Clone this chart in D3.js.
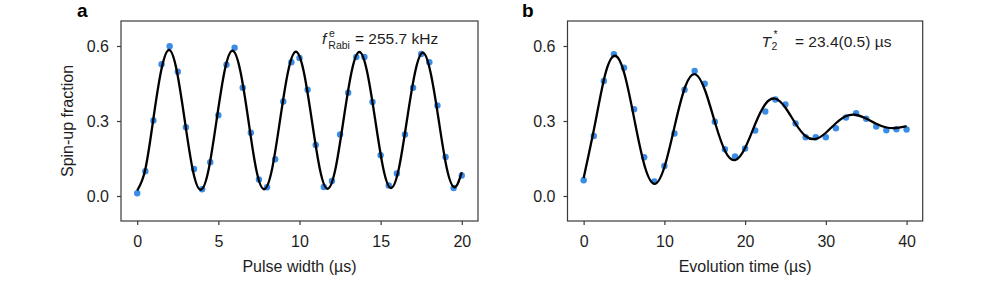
<!DOCTYPE html>
<html>
<head>
<meta charset="utf-8" />
<title>Rabi oscillation and Ramsey decay</title>
<style>
  body { margin: 0; background: #fff; }
  svg { display: block; font-family: "Liberation Sans", Arial, Helvetica, sans-serif; }
</style>
</head>
<body>
<script src="https://d3js.org/d3.v7.min.js"></script>
<script>

// panel a: Rabi oscillation, one point every 0.5 us
var rabiTime = [0, 0.5, 1, 1.5, 2, 2.5, 3, 3.5, 4, 4.5, 5, 5.5, 6, 6.5, 7, 7.5, 8, 8.5, 9, 9.5,
                10, 10.5, 11, 11.5, 12, 12.5, 13, 13.5, 14, 14.5, 15, 15.5, 16, 16.5, 17, 17.5, 18, 18.5, 19, 19.5, 20];
var rabiSpinUp = [0.011, 0.099, 0.302, 0.527, 0.599, 0.497, 0.275, 0.108, 0.027, 0.135, 0.323, 0.525, 0.593, 0.433,
                  0.253, 0.066, 0.035, 0.147, 0.378, 0.535, 0.552, 0.425, 0.204, 0.036, 0.060, 0.246, 0.413, 0.556,
                  0.556, 0.376, 0.163, 0.042, 0.090, 0.246, 0.433, 0.568, 0.535, 0.362, 0.156, 0.032, 0.082];

// fitted curve of panel a (eighth of a period apart)
var rabiFitTime = [0, 0.49, 0.98, 1.47, 1.96, 2.44, 2.93, 3.42, 3.91, 4.40, 4.89, 5.38, 5.87, 6.36, 6.85, 7.33,
                   7.82, 8.31, 8.80, 9.29, 9.78, 10.27, 10.76, 11.25, 11.73, 12.22, 12.71, 13.20, 13.69, 14.18,
                   14.67, 15.16, 15.64, 16.13, 16.62, 17.11, 17.60, 18.09, 18.58, 19.07, 19.56, 20];
var rabiFit = [0.022, 0.104, 0.302, 0.500, 0.584, 0.500, 0.302, 0.105, 0.025, 0.106, 0.303, 0.499, 0.581, 0.498,
               0.303, 0.107, 0.027, 0.108, 0.303, 0.496, 0.577, 0.495, 0.303, 0.109, 0.029, 0.110, 0.303, 0.494,
               0.576, 0.493, 0.303, 0.111, 0.032, 0.112, 0.303, 0.491, 0.573, 0.490, 0.303, 0.113, 0.035, 0.095];

// panel b: Ramsey, one point every 1.25 us
var ramseyTime = [0, 1.25, 2.5, 3.75, 5, 6.25, 7.5, 8.75, 10, 11.25, 12.5, 13.75, 15, 16.25, 17.5, 18.75, 20,
                  21.25, 22.5, 23.75, 25, 26.25, 27.5, 28.75, 30, 31.25, 32.5, 33.75, 35, 36.25, 37.5, 38.75, 40];
var ramseySpinUp = [0.063, 0.240, 0.460, 0.567, 0.513, 0.347, 0.155, 0.058, 0.120, 0.250, 0.425, 0.500, 0.449,
                    0.297, 0.187, 0.158, 0.190, 0.262, 0.338, 0.386, 0.366, 0.290, 0.235, 0.235, 0.235, 0.271,
                    0.314, 0.331, 0.309, 0.278, 0.263, 0.267, 0.266];

var ramseyFitTime = [0, 1.42, 2.66, 3.90, 5.14, 6.38, 7.62, 8.87, 10.11, 11.35, 12.59, 13.83, 15.07, 16.31, 17.55,
                     18.80, 20.04, 21.28, 22.52, 23.76, 25.00, 26.24, 27.48, 28.72, 29.97, 31.21, 32.45, 33.69,
                     34.93, 36.17, 37.41, 38.66, 40];
var ramseyFit = [0.072, 0.290, 0.485, 0.561, 0.478, 0.290, 0.113, 0.049, 0.127, 0.290, 0.438, 0.487, 0.420, 0.290,
                 0.178, 0.144, 0.195, 0.290, 0.368, 0.389, 0.353, 0.290, 0.240, 0.228, 0.252, 0.290, 0.319, 0.325,
                 0.311, 0.290, 0.275, 0.272, 0.280];

var yTicks = [0, 0.3, 0.6];
var rabiTicks = [0, 5, 10, 15, 20];
var ramseyTicks = [0, 10, 20, 30, 40];

var width = 997;
var height = 285;
var plotTop = 21;
var plotBottom = 221;
var dotColor = "#3a8de6";
var inkColor = "#1e1e1e";
var frameColor = "#3a3a3a";
var fontSize = "16px";
var noteSize = "15.5px";
var small = "10.5px";

var svg = d3.select("body").append("svg")
    .attr("width", width)
    .attr("height", height);

svg.append("rect")
    .attr("width", width)
    .attr("height", height)
    .attr("fill", "#fff");

var yScaler = d3.scaleLinear()
    .domain([-0.1, 0.7])
    .range([plotBottom, plotTop]);

function styleAxis(g) {
    g.select(".domain").remove();
    g.attr("font-family", null).attr("font-size", null);
    g.selectAll(".tick line").attr("stroke", frameColor).attr("stroke-width", 1.2);
    g.selectAll(".tick text").attr("fill", inkColor).style("font-size", fontSize);
}

function drawPanel(cfg) {
    var xScaler = d3.scaleLinear()
        .domain(cfg.xDomain)
        .range([cfg.left, cfg.right]);

    var g = svg.append("g");

    g.append("g")
        .attr("transform", "translate(0," + plotBottom + ")")
        .call(d3.axisBottom(xScaler).tickValues(cfg.xTicks).tickSize(4).tickPadding(10.5).tickFormat(d3.format("d")))
        .call(styleAxis);

    g.append("g")
        .attr("transform", "translate(" + cfg.left + ",0)")
        .call(d3.axisLeft(yScaler).tickValues(yTicks).tickSize(4).tickPadding(8).tickFormat(d3.format(".1f")))
        .call(styleAxis);

    g.append("g")
        .selectAll("circle")
        .data(d3.zip(cfg.time, cfg.value))
        .join("circle")
        .attr("cx", d => xScaler(d[0]))
        .attr("cy", d => yScaler(d[1]))
        .attr("r", 3.2)
        .attr("fill", dotColor);

    var line = d3.line()
        .x(d => xScaler(d[0]))
        .y(d => yScaler(d[1]))
        .curve(d3.curveNatural);

    g.append("path")
        .datum(d3.zip(cfg.fitTime, cfg.fit))
        .attr("fill", "none")
        .attr("stroke", "#000")
        .attr("stroke-width", 2.3)
        .attr("stroke-linejoin", "round")
        .attr("d", line);

    g.append("rect")
        .attr("x", cfg.left)
        .attr("y", plotTop)
        .attr("width", cfg.right - cfg.left)
        .attr("height", plotBottom - plotTop)
        .attr("fill", "none")
        .attr("stroke", frameColor)
        .attr("stroke-width", 1.2);

    g.append("text")
        .attr("x", (cfg.left + cfg.right) / 2)
        .attr("y", 272)
        .attr("text-anchor", "middle")
        .attr("fill", inkColor)
        .style("font-size", fontSize)
        .text(cfg.xLabel);

    g.append("text")
        .attr("x", cfg.tagX)
        .attr("y", 17)
        .attr("fill", "#000")
        .style("font-size", "19px")
        .style("font-weight", "bold")
        .text(cfg.tag);
}

drawPanel({
    left: 121, right: 478, xDomain: [-1, 21], xTicks: rabiTicks,
    time: rabiTime, value: rabiSpinUp, fitTime: rabiFitTime, fit: rabiFit,
    xLabel: "Pulse width (µs)", tag: "a", tagX: 77
});

drawPanel({
    left: 567.5, right: 922.7, xDomain: [-2, 42], xTicks: ramseyTicks,
    time: ramseyTime, value: ramseySpinUp, fitTime: ramseyFitTime, fit: ramseyFit,
    xLabel: "Evolution time (µs)", tag: "b", tagX: 522
});

svg.append("text")
    .attr("transform", "translate(73,121) rotate(-90)")
    .attr("text-anchor", "middle")
    .attr("fill", inkColor)
    .style("font-size", fontSize)
    .text("Spin-up fraction");

// f_Rabi annotation: one text, super- and subscript stacked with tspans
var fNote = svg.append("text")
    .attr("x", 322)
    .attr("y", 43.5)
    .attr("fill", inkColor)
    .style("font-size", noteSize);
fNote.append("tspan").style("font-style", "italic").text("f");
fNote.append("tspan").attr("x", 329).attr("y", 37.2).style("font-size", small).text("e");
fNote.append("tspan").attr("x", 328.3).attr("y", 49).style("font-size", small).text("Rabi");
fNote.append("tspan").attr("x", 355).attr("y", 43.5).text("= 255.7 kHz");

// T2* annotation
var tNote = svg.append("text")
    .attr("x", 761.5)
    .attr("y", 46.5)
    .attr("fill", inkColor)
    .style("font-size", noteSize);
tNote.append("tspan").style("font-style", "italic").text("T");
tNote.append("tspan").attr("x", 771.5).attr("y", 50).style("font-size", small).text("2");
tNote.append("tspan").attr("x", 773.5).attr("y", 38.2).style("font-size", small).text("*");
tNote.append("tspan").attr("x", 795).attr("y", 46.5).text("= 23.4(0.5) µs");

</script>
</body>
</html>
